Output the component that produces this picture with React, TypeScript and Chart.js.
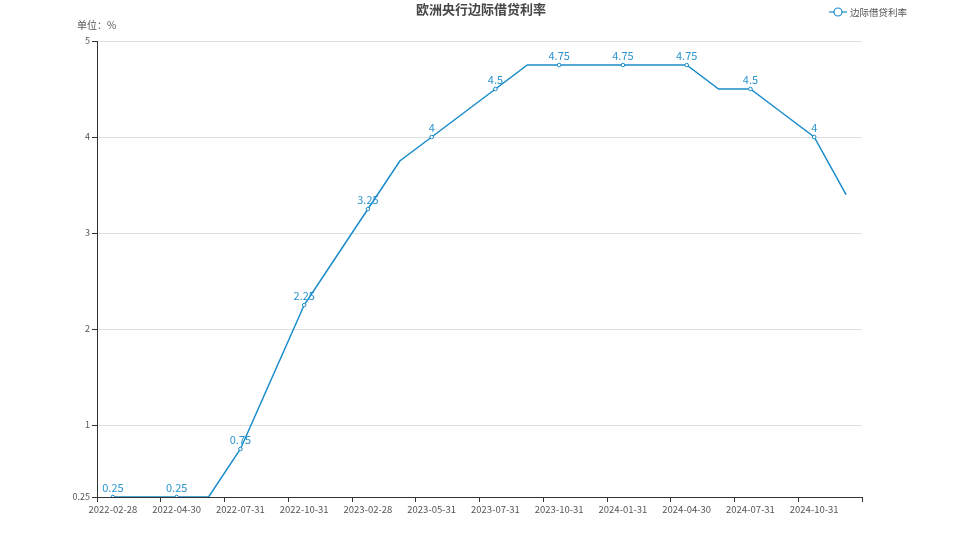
import { useEffect, useRef } from 'react';
import { Chart, ChartConfiguration, Plugin, registerables } from 'chart.js';

Chart.register(...registerables);

const TITLE = '欧洲央行边际借贷利率';
const SERIES_NAME = '边际借贷利率';
const UNIT_LABEL = '单位：%';
const LINE_COLOR = '#1a8cca';
const FONT = "'Noto Sans CJK SC', 'Noto Sans', sans-serif";

const dates = [
  '2022-02-28', '2022-03-31', '2022-04-30', '2022-06-30',
  '2022-07-31', '2022-09-30', '2022-10-31', '2022-12-31',
  '2023-02-28', '2023-03-31', '2023-05-31', '2023-06-30',
  '2023-07-31', '2023-09-30', '2023-10-31', '2023-12-31',
  '2024-01-31', '2024-03-31', '2024-04-30', '2024-06-30',
  '2024-07-31', '2024-09-30', '2024-10-31', '2024-12-31'
];

const rates = [
  0.25, 0.25, 0.25, 0.25,
  0.75, 1.5, 2.25, 2.75,
  3.25, 3.75, 4, 4.25,
  4.5, 4.75, 4.75, 4.75,
  4.75, 4.75, 4.75, 4.5,
  4.5, 4.25, 4, 3.4
];

const yTicks = [0.25, 1, 2, 3, 4, 5];

// labels + symbols only on every other category, like the source chart
const shown = (i: number) => i % 2 === 0;

const decorPlugin: Plugin<'line'> = {
  id: 'decor',
  afterDatasetsDraw(chart) {
    const { ctx } = chart;
    const meta = chart.getDatasetMeta(0);
    ctx.save();
    ctx.font = `11px ${FONT}`;
    ctx.fillStyle = '#2a93cf';
    ctx.textAlign = 'center';
    ctx.textBaseline = 'bottom';
    meta.data.forEach((pt, i) => {
      if (!shown(i)) return;
      ctx.fillText(String(rates[i]), pt.x, pt.y - 4);
    });
    ctx.restore();
  },
  afterDraw(chart) {
    const { ctx, width } = chart;
    ctx.save();
    // title
    ctx.font = `bold 13px ${FONT}`;
    ctx.fillStyle = '#464646';
    ctx.textAlign = 'center';
    ctx.textBaseline = 'middle';
    ctx.fillText(TITLE, width / 2 + 2, 9);
    // unit label
    ctx.font = `10px ${FONT}`;
    ctx.fillStyle = '#555';
    ctx.textAlign = 'left';
    ctx.fillText(UNIT_LABEL, 77, 25);
    // legend
    const lx = 829;
    const ly = 12;
    ctx.strokeStyle = LINE_COLOR;
    ctx.lineWidth = 1.2;
    ctx.beginPath();
    ctx.moveTo(lx, ly);
    ctx.lineTo(lx + 18, ly);
    ctx.stroke();
    ctx.beginPath();
    ctx.arc(lx + 9, ly, 4, 0, Math.PI * 2);
    ctx.fillStyle = '#fff';
    ctx.fill();
    ctx.stroke();
    ctx.fillStyle = '#555';
    ctx.font = `9.5px ${FONT}`;
    ctx.fillText(SERIES_NAME, lx + 21, ly);
    ctx.restore();
  }
};

export default function App() {
  const canvasRef = useRef<HTMLCanvasElement | null>(null);
  const chartRef = useRef<Chart<'line'> | null>(null);

  useEffect(() => {
    if (!canvasRef.current) return;
    if (chartRef.current) chartRef.current.destroy();

    const config: ChartConfiguration<'line'> = {
      type: 'line',
      data: {
        labels: dates,
        datasets: [
          {
            label: SERIES_NAME,
            data: rates,
            borderColor: LINE_COLOR,
            backgroundColor: '#fff',
            borderWidth: 1.5,
            tension: 0,
            pointRadius: (c) => (shown(c.dataIndex) ? 1.8 : 0),
            pointBorderWidth: 1,
            pointBorderColor: LINE_COLOR,
            pointBackgroundColor: '#fff'
          }
        ]
      },
      options: {
        animation: false,
        responsive: false,
        layout: { padding: { top: 41, right: 96, left: 0, bottom: 0 } },
        plugins: {
          legend: { display: false },
          title: { display: false },
          tooltip: { enabled: false }
        },
        scales: {
          x: {
            type: 'category',
            offset: true,
            afterFit: (s) => {
              s.height = 42;
            },
            grid: {
              offset: true,
              drawOnChartArea: false,
              tickLength: 5,
              tickColor: (c) =>
                c.index === undefined || c.index % 2 === 0 ? '#333' : 'rgba(0,0,0,0)'
            },
            border: { color: '#333', width: 1 },
            ticks: {
              autoSkip: false,
              maxRotation: 0,
              padding: 2,
              color: '#555',
              font: { family: FONT, size: 9.5 },
              callback: (_v, i) => (shown(i) ? dates[i] : '')
            }
          },
          y: {
            type: 'linear',
            min: 0.25,
            max: 5,
            afterFit: (s) => {
              s.width = 97;
            },
            afterBuildTicks: (s) => {
              s.ticks = yTicks.map((v) => ({ value: v }));
            },
            grid: {
              color: (c) => (c.tick && c.tick.value === 0.25 ? 'rgba(0,0,0,0)' : '#e0e0e0'),
              tickColor: '#333',
              tickLength: 5
            },
            border: { color: '#333', width: 1 },
            ticks: {
              padding: 2,
              color: '#555',
              font: { family: FONT, size: 9 },
              callback: (v) => String(v)
            }
          }
        }
      },
      plugins: [decorPlugin]
    };

    chartRef.current = new Chart(canvasRef.current, config);

    return () => {
      if (chartRef.current) {
        chartRef.current.destroy();
        chartRef.current = null;
      }
    };
  }, []);

  return (
    <div style={{ position: 'fixed', left: 0, top: 0, width: 958, height: 539, background: '#fff' }}>
      <canvas ref={canvasRef} width={958} height={539} style={{ width: 958, height: 539 }} />
    </div>
  );
}
